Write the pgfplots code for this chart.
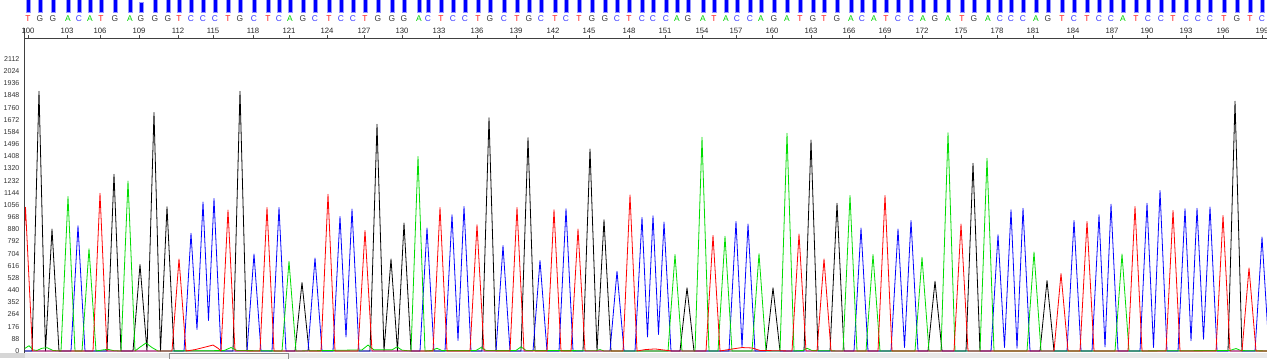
\documentclass[border=0pt]{standalone}
\usepackage{fontspec}
\setmainfont{Liberation Sans}
\usepackage{pgfplots}
\pgfplotsset{compat=1.18}
\definecolor{traceA}{RGB}{0,220,0}
\definecolor{traceC}{RGB}{0,0,255}
\definecolor{traceG}{RGB}{0,0,0}
\definecolor{traceT}{RGB}{255,0,0}
\definecolor{baseA}{RGB}{0,210,0}
\definecolor{baseC}{RGB}{60,60,255}
\definecolor{baseG}{RGB}{60,60,60}
\definecolor{baseT}{RGB}{255,20,20}
\definecolor{qbar}{RGB}{0,0,255}
\definecolor{qedge}{RGB}{150,150,255}
\newcommand{\letterfont}{\fontsize{6.3}{7}\selectfont}
\begin{document}
\begin{tikzpicture}
\useasboundingbox (0,0) rectangle (950.25pt,268.5pt);
\fill[black!16] (0,0) rectangle (950.25pt,3.75pt);
\fill[black!9] (18.75pt,0) rectangle (950.25pt,3.75pt);
\draw[black!45, line width=0.5pt, fill=black!4] (126.75pt,-1pt) rectangle (216pt,3.4pt);
% ---------- header: quality bars and base calls ----------
\begin{axis}[
  at={(18.75pt,240pt)}, anchor=south west,
  width=931.5pt, height=28.5pt, scale only axis,
  xmin=25, xmax=1267, ymin=-26, ymax=12,
  axis lines=none, xtick=\empty, ytick=\empty,
]
\addplot[ybar, bar width=3pt, fill=qbar, draw=qedge, line width=0.5pt] coordinates {
(28,14)(40,14)(53,14)(68,14)(79,14)(90,14)(101,14)(115,14)(130,14)(141,10)
(155,14)(168,14)(179,14)(191,14)(203,14)(215,14)(228,14)(240,14)(254,14)(268,14)
(279,14)(290,14)(303,14)(315,14)(329,14)(341,14)(353,14)(365,14)(378,14)(392,14)
(404,14)(419,14)(428,14)(441,14)(453,14)(465,14)(478,14)(490,14)(504,14)(517,14)
(529,14)(541,14)(555,14)(566,14)(579,14)(592,14)(605,14)(617,14)(629,14)(642,14)
(653,14)(666,14)(677,14)(688,14)(703,14)(714,14)(726,14)(737,14)(750,14)(761,14)
(774,14)(787,14)(800,14)(813,14)(824,14)(837,14)(851,14)(862,14)(874,14)(886,14)
(898,14)(911,14)(923,14)(935,14)(948,14)(962,14)(974,14)(988,14)(1000,14)(1011,14)
(1023,14)(1036,14)(1048,14)(1062,14)(1074,14)(1087,14)(1099,14)(1111,14)(1123,14)(1136,14)
(1148,14)(1161,14)(1173,14)(1186,14)(1198,14)(1210,14)(1224,14)(1237,14)(1250,14)(1262,14)};
\addplot[draw=none, mark=none, nodes near coords={T}, nodes near coords align={center},
  every node near coord/.append style={text=baseT, font=\letterfont, inner sep=0pt}] coordinates {
(28,-6.5)(101,-6.5)(179,-6.5)(228,-6.5)(268,-6.5)(329,-6.5)(365,-6.5)(441,-6.5)(478,-6.5)(517,-6.5)
(555,-6.5)(579,-6.5)(629,-6.5)(714,-6.5)(800,-6.5)(824,-6.5)(886,-6.5)(962,-6.5)(1062,-6.5)(1087,-6.5)
(1136,-6.5)(1173,-6.5)(1224,-6.5)(1250,-6.5)};
\addplot[draw=none, mark=none, nodes near coords={G}, nodes near coords align={center},
  every node near coord/.append style={text=baseG, font=\letterfont, inner sep=0pt}] coordinates {
(40,-6.5)(53,-6.5)(115,-6.5)(141,-6.5)(155,-6.5)(168,-6.5)(240,-6.5)(303,-6.5)(378,-6.5)(392,-6.5)
(404,-6.5)(490,-6.5)(529,-6.5)(592,-6.5)(605,-6.5)(688,-6.5)(774,-6.5)(813,-6.5)(837,-6.5)(935,-6.5)
(974,-6.5)(1048,-6.5)(1237,-6.5)};
\addplot[draw=none, mark=none, nodes near coords={A}, nodes near coords align={center},
  every node near coord/.append style={text=baseA, font=\letterfont, inner sep=0pt}] coordinates {
(68,-6.5)(90,-6.5)(130,-6.5)(290,-6.5)(419,-6.5)(677,-6.5)(703,-6.5)(726,-6.5)(761,-6.5)(787,-6.5)
(851,-6.5)(874,-6.5)(923,-6.5)(948,-6.5)(988,-6.5)(1036,-6.5)(1123,-6.5)};
\addplot[draw=none, mark=none, nodes near coords={C}, nodes near coords align={center},
  every node near coord/.append style={text=baseC, font=\letterfont, inner sep=0pt}] coordinates {
(79,-6.5)(191,-6.5)(203,-6.5)(215,-6.5)(254,-6.5)(279,-6.5)(315,-6.5)(341,-6.5)(353,-6.5)(428,-6.5)
(453,-6.5)(465,-6.5)(504,-6.5)(541,-6.5)(566,-6.5)(617,-6.5)(642,-6.5)(653,-6.5)(666,-6.5)(737,-6.5)
(750,-6.5)(862,-6.5)(898,-6.5)(911,-6.5)(1000,-6.5)(1011,-6.5)(1023,-6.5)(1074,-6.5)(1099,-6.5)(1111,-6.5)
(1148,-6.5)(1161,-6.5)(1186,-6.5)(1198,-6.5)(1210,-6.5)(1262,-6.5)};
\end{axis}
% ---------- traces ----------
\begin{axis}[
  at={(18.75pt,4.125pt)}, anchor=south west,
  width=931.5pt, height=235.875pt, scale only axis,
  xmin=25, xmax=1267, ymin=-10.85, ymax=2263.8,
  axis x line*=top, axis y line*=left,
  x axis line style={-, draw=black!75, line width=0.75pt},
  y axis line style={-, draw=black!75, line width=0.75pt, shorten >=-7.5pt},
  xtick={28,67,100,139,178,213,253,289,327,364,402,439,477,516,553,589,629,665,702,736,772,811,849,885,922,961,997,1033,1073,1112,1147,1186,1223,1262},
  xticklabels={100,103,106,109,112,115,118,121,124,127,130,133,136,139,142,145,148,151,154,157,160,163,166,169,172,175,178,181,184,187,190,193,196,199},
  xtick align=outside, major tick length=2.25pt,
  x tick style={draw=black!70, line width=0.6pt},
  xticklabel style={font=\fontsize{5.8}{6.5}\selectfont, text=black!85, inner sep=0.6pt},
  ytick={0,88,...,2112}, y tick style={draw=none},
  yticklabel style={font=\fontsize{5.3}{6}\selectfont, text=black!80, anchor=east, inner sep=0pt, xshift=-4pt},
  /pgf/number format/assume math mode=true,
  /pgf/number format/1000 sep={},
  line join=round,
]
\addplot[traceG, line width=0.6pt, mark=none] coordinates {
(20,0)(32,0)(39,1879)(45.5,0)(52,882)(59,0)(107,0)(114,1278)(121,0)(133,0)(140,625)(147,0)(154,1725)(160.5,0)(167,1043)(174,0)
(233,0)(240,1879)(247,0)(295,0)(302,495)(309,0)(370,0)(377,1639)(384,0)(391,666)(397.5,0)(404,925)(411,0)(482,0)(489,1687)(496,0)
(521,0)(528,1543)(535,0)(583,0)(590,1461)(597,0)(604,949)(611,0)(680,0)(687,457)(694,0)(766,0)(773,457)(780,0)(804,0)(811,1526)(818,0)
(830,0)(837,1069)(844,0)(928,0)(935,505)(942,0)(966,0)(973,1358)(980,0)(1040,0)(1047,509)(1054,0)(1228,0)(1235,1807)(1242,0)(1270,0)};
\addplot[traceC, line width=0.6pt, mark=none] coordinates {
(20,0)(71,0)(78,906)(85,0)(184,0)(191,851)(197,156)(203,1077)(208.5,221)(214,1103)(221,0)(247,0)(254,702)(261,0)(272,0)(279,1038)(286,0)
(308,0)(315,673)(322,0)(333,0)(340,973)(346,101)(352,1026)(359,0)(420,0)(427,889)(434,0)(445,0)(452,985)(458,77)(464,1045)(471,0)
(496,0)(503,762)(510,0)(533,0)(540,654)(547,0)(559,0)(566,1029)(573,0)(610,0)(617,577)(624,0)(635,0)(642,966)(647.5,101)(653,978)(658.5,120)(664,932)(671,0)
(729,0)(736,937)(742,30)(748,918)(755,0)(854,0)(861,889)(868,0)(891,0)(898,882)(904.5,25)(911,944)(918,0)
(991,0)(998,841)(1004.5,25)(1011,1021)(1017,20)(1023,1033)(1030,0)(1067,0)(1074,944)(1081,0)(1092,0)(1099,985)(1105,30)(1111,1062)(1118,0)
(1140,0)(1147,1069)(1153.5,25)(1160,1161)(1167,0)(1178,0)(1185,1029)(1191,75)(1197,1033)(1203.5,85)(1210,1041)(1217,0)(1255,0)(1262,824)(1269,0)(1270,0)};
\addplot[traceA, line width=0.6pt, mark=none] coordinates {
(20,0)(24,15)(29,38)(33,8)(37,4)(42,20)(47,24)(53,4)(61,0)(68,1117)(75,0)(82,0)(89,740)(96,0)(103,8)(108,12)(114,2)(121,0)(128,1230)(135,0)
(140,28)(146,58)(152,25)(158,0)(224,3)(231,25)(237,4)(282,0)(289,649)(296,0)(362,8)(368,43)(374,8)(392,8)(397,30)(402,6)(411,0)(418,1406)(425,0)
(432,4)(437,20)(442,3)(476,4)(481,25)(486,4)(516,4)(521,30)(526,4)(596,2)(600,10)(604,0)(668,0)(675,697)(682,0)(695,0)(702,1545)(709,0)
(718,0)(725,829)(732,0)(752,0)(759,704)(766,0)(780,0)(787,1574)(794,0)(803,4)(807,20)(812,3)(843,0)(850,1125)(857,0)(866,0)(873,697)(880,0)
(915,0)(922,678)(929,0)(941,0)(948,1579)(955,0)(980,0)(987,1394)(994,0)(1027,0)(1034,716)(1041,0)(1115,0)(1122,702)(1129,0)(1230,4)(1236,18)(1241,3)(1270,0)};
\addplot[traceT, line width=0.6pt, mark=none] coordinates {
(18.5,0)(25.5,1040)(32.5,0)(93,0)(100,1141)(107,0)(172,0)(179,666)(186,0)(195,10)(205,28)(213,43)(218,20)(221,0)(228,1019)(235,0)
(260,0)(267,1038)(274,0)(321,0)(328,1134)(335,0)(358,0)(365,872)(372,0)(433,0)(440,1038)(447,0)(470,0)(477,913)(484,0)(510,0)(517,1038)(524,0)
(547,0)(554,1021)(561,0)(571,0)(578,882)(585,0)(623,0)(630,1129)(637,0)(645,10)(655,15)(665,6)(672,0)(706,0)(713,836)(720,0)
(730,12)(742,25)(752,22)(760,4)(792,0)(799,846)(806,0)(817,0)(824,666)(831,0)(878,0)(885,1125)(892,0)(954,0)(961,918)(968,0)
(1054,0)(1061,560)(1068,0)(1080,0)(1087,937)(1094,0)(1128,0)(1135,1045)(1142,0)(1166,0)(1173,1016)(1180,0)(1216,0)(1223,980)(1230,0)(1242,0)(1249,601)(1256,0)(1270,0)};
\end{axis}
\end{tikzpicture}
\end{document}
